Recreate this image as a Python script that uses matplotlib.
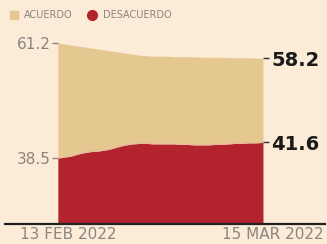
import matplotlib
matplotlib.use("Agg")
import matplotlib.pyplot as plt
import matplotlib.transforms as mtransforms
import numpy as np
import pandas as pd
from matplotlib.lines import Line2D

# daily poll, 13 feb - 15 mar 2022
dates = pd.date_range("2022-02-13", "2022-03-15", freq="D")
acuerdo = [61.2, 61.0, 60.8, 60.6, 60.4, 60.2, 60.0, 59.8, 59.6, 59.4, 59.2, 59.0,
           58.8, 58.7, 58.6, 58.6, 58.6, 58.5, 58.5, 58.5, 58.5, 58.4, 58.4, 58.4,
           58.4, 58.3, 58.3, 58.3, 58.3, 58.2, 58.2]
desacuerdo = [38.5, 38.7, 38.9, 39.3, 39.6, 39.8, 39.9, 40.1, 40.4, 40.8, 41.1, 41.3,
              41.4, 41.4, 41.3, 41.3, 41.3, 41.3, 41.2, 41.2, 41.1, 41.1, 41.1, 41.2,
              41.2, 41.3, 41.4, 41.4, 41.5, 41.5, 41.6]
left_ticks = [38.5, 61.2]
right_ticks = [41.6, 58.2]
date_labels = ["13 FEB 2022", "15 MAR 2022"]

bg = "#FCEBD7"
tan = "#E5C790"
red = "#B2232D"
grey = "#8A8580"

fig = plt.figure(figsize=(3.27, 2.44), dpi=100, facecolor=bg)
ax = fig.add_axes([0.177, 0.082, 0.627, 0.918])
ax.set_facecolor(bg)

base = 25.5
ax.fill_between(dates, acuerdo, base, color=tan, lw=0)
ax.fill_between(dates, desacuerdo, base, color=red, lw=0)
ax.plot(dates, desacuerdo, color="#EBB89C", lw=0.8)

ax.set_ylim(base, 69.7)
ax.set_xlim(dates[0], dates[-1])

for s in ax.spines.values():
    s.set_visible(False)

ax.set_yticks(left_ticks)
ax.set_yticklabels([f"{v:.1f}" for v in left_ticks])
ax.tick_params(axis="y", length=4, width=1, color=grey, labelcolor=grey,
               labelsize=11, pad=1)

ax.set_xticks([dates[0], dates[-1]])
ax.set_xticklabels(date_labels)
ax.tick_params(axis="x", length=0, labelcolor=grey, labelsize=11, pad=2)
shift = mtransforms.ScaledTranslation(0.1, 0, fig.dpi_scale_trans)
for lbl in ax.get_xticklabels():
    lbl.set_transform(lbl.get_transform() + shift)

ax2 = ax.twinx()
ax2.set_ylim(ax.get_ylim())
for s in ax2.spines.values():
    s.set_visible(False)
ax2.set_yticks(right_ticks)
ax2.set_yticklabels([f"{v:.1f}" for v in right_ticks], fontweight="bold")
ax2.tick_params(axis="y", length=4, width=1, color="#333333", labelcolor="#1A1A1A",
                labelsize=14, pad=2)

# baseline
fig.add_artist(Line2D([0.015, 0.995], [0.08, 0.08], color="#222222", lw=1.6))

handles = [
    Line2D([], [], marker="s", ls="", color=tan, markersize=6),
    Line2D([], [], marker="o", ls="", color=red, markersize=7),
]
fig.legend(handles, ["ACUERDO", "DESACUERDO"], loc="upper left",
           bbox_to_anchor=(-0.015, 0.995), ncol=2, frameon=False, fontsize=7,
           handletextpad=0.1, columnspacing=1.0, labelcolor=grey)

fig.savefig("out.png", dpi=100, facecolor=bg)
